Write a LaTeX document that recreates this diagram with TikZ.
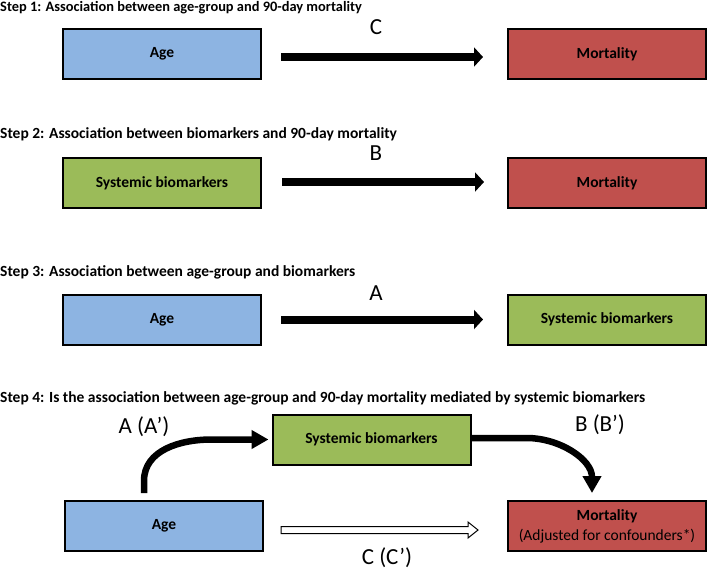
\documentclass[tikz,border=0pt]{standalone}
\usepackage{fontspec}
\setmainfont{Carlito}
\usetikzlibrary{arrows.meta,calc}

\definecolor{ageblue}{HTML}{8DB4E2}
\definecolor{biogreen}{HTML}{9BBB59}
\definecolor{mortred}{HTML}{C0504D}

\tikzstyle{pxfig}=[x=1pt,y=-1pt]
\tikzstyle{box}=[draw=black,line width=2pt,minimum width=198pt,minimum height=50pt,inner sep=0pt,align=center,font=\fontsize{15.5}{20}\selectfont\bfseries]
\tikzstyle{steptitle}=[anchor=base west,inner sep=0pt,font=\fontsize{15.5}{18}\selectfont\bfseries]
\tikzstyle{pathlabel}=[inner sep=0pt,font=\fontsize{23}{27}\selectfont]
\tikzstyle{bigarrow}=[line width=8pt,-{Triangle[length=9pt,width=19pt]}]
\tikzstyle{bendarrow}=[line width=6.5pt,-{Triangle[length=17pt,width=18pt]}]
\tikzstyle{hollowarrow}=[draw=black,line width=1pt,fill=white,line join=miter]

\begin{document}
\begin{tikzpicture}[style=pxfig]
\useasboundingbox (0,0) rectangle (709,570);

\node[steptitle,font=\fontsize{14.4}{18}\selectfont\bfseries] (title1) at (0,12) {Step 1: Association between age-group and 90-day mortality};
\node[box,fill=ageblue] (age1) at (162,54) {Age};
\node[box,fill=mortred] (mort1) at (607,54) {Mortality};
\node[pathlabel] (labC) at (376,27) {C};
\draw[bigarrow] ([xshift=19pt,yshift=-3pt]age1.east) -- ([xshift=-24pt,yshift=-3pt]mort1.west);

\node[steptitle] (title2) at (0,138) {Step 2: Association between biomarkers and 90-day mortality};
\node[box,fill=biogreen] (bio2) at (162,183) {Systemic biomarkers};
\node[box,fill=mortred] (mort2) at (607,183) {Mortality};
\node[pathlabel] (labB) at (376,153) {B};
\draw[bigarrow] ([xshift=20pt,yshift=1pt]bio2.east) -- ([xshift=-23pt,yshift=1pt]mort2.west);

\node[steptitle] (title3) at (0,276) {Step 3: Association between age-group and biomarkers};
\node[box,fill=ageblue] (age3) at (162,319.5) {Age};
\node[box,fill=biogreen] (bio3) at (607,319.5) {Systemic biomarkers};
\node[pathlabel] (labA) at (376,293) {A};
\draw[bigarrow] ([xshift=19pt]age3.east) -- ([xshift=-24pt]bio3.west);

\node[steptitle] (title4) at (0,402) {Step 4: Is the association between age-group and 90-day mortality mediated by systemic biomarkers};
\node[box,fill=ageblue] (age4) at (164,526) {Age};
\node[box,fill=biogreen] (bio4) at (371.5,439.5) {Systemic biomarkers};
\node[box,fill=mortred] (mort4) at (607,526) {Mortality\\{\mdseries\fontsize{15.5}{20}\selectfont(Adjusted for confounders*)}};
\node[pathlabel] (labA4) at (144,427) {A (A’)};
\node[pathlabel] (labB4) at (600,425) {B (B’)};
\node[pathlabel] (labC4) at (387,558) {C (C’)};

\draw[bendarrow] ([xshift=-20pt,yshift=7pt]age4.north) -- ++(0,-12) to[out=90,in=180] ([xshift=-60pt]bio4.west) -- ([xshift=-3pt]bio4.west);
\draw[bendarrow] ([yshift=1.5pt]bio4.east) -- ++(55,0) to[out=0,in=90] ([xshift=-15pt,yshift=7pt]mort4.north);

\coordinate (wS) at ([xshift=17pt,yshift=-4pt]age4.east);
\coordinate (wE) at ([xshift=-29pt,yshift=-4pt]mort4.west);
\draw[hollowarrow] ($(wS)+(0,-3.5)$) -- ($(wE)+(-10,-3.5)$) -- ($(wE)+(-10,-8)$) -- (wE) -- ($(wE)+(-10,8)$) -- ($(wE)+(-10,3.5)$) -- ($(wS)+(0,3.5)$) -- cycle;
\end{tikzpicture}
\end{document}
